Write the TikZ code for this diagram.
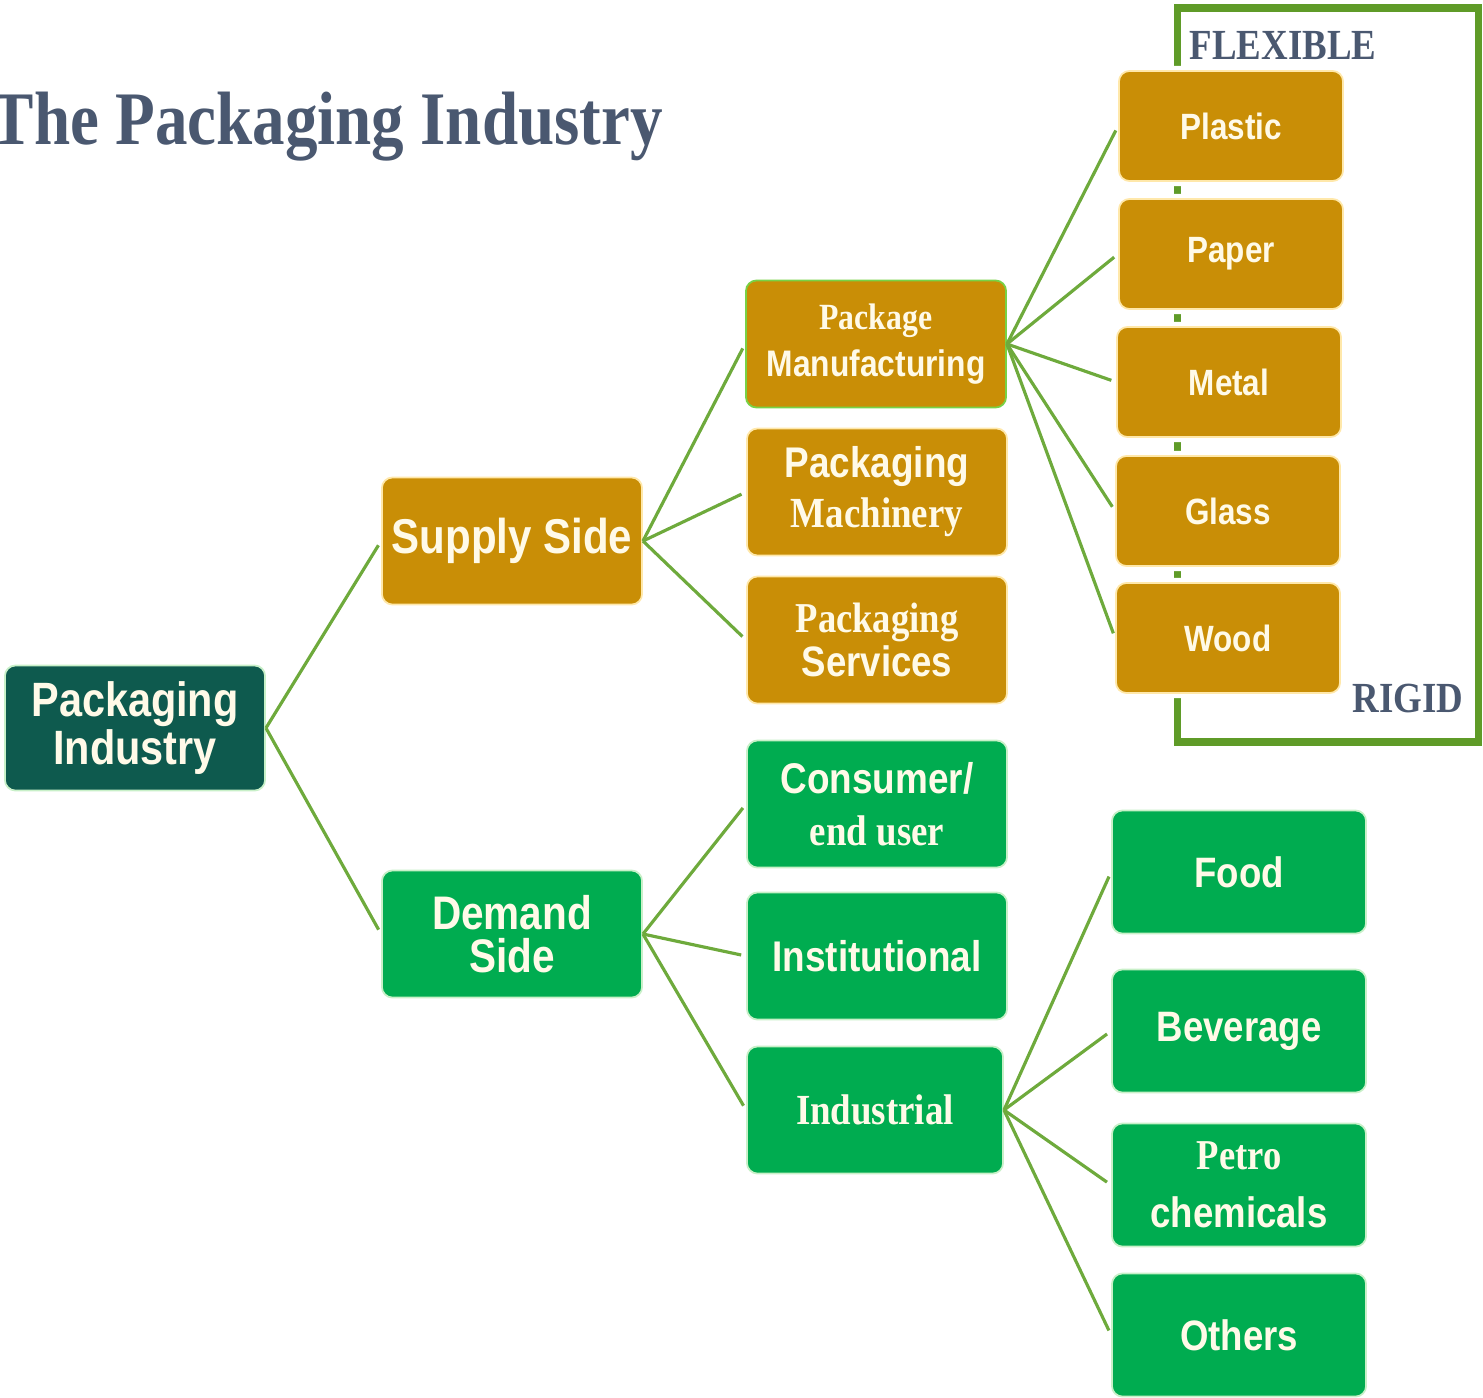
\documentclass[tikz,border=0pt]{standalone}
\usepackage{fontspec}
\newfontfamily\pksans[FakeStretch=0.86]{Liberation Sans}
\newfontfamily\pkserif[FakeStretch=0.86]{Liberation Serif}

\definecolor{gold}{RGB}{201,142,6}
\definecolor{goldedge}{RGB}{255,232,170}
\definecolor{leaf}{RGB}{0,172,80}
\definecolor{leafedge}{RGB}{200,240,200}
\definecolor{teal}{RGB}{14,90,78}
\definecolor{twig}{RGB}{110,170,60}
\definecolor{hedge}{RGB}{95,155,40}
\definecolor{slate}{RGB}{74,88,112}
\definecolor{cream}{RGB}{255,250,232}

\tikzset{box/.style={rectangle, rounded corners=3pt, inner sep=0pt, align=center, text=cream, line width=0.5pt, preaction={draw=white, line width=1mm}},
 supply/.style={box, fill=gold, draw=goldedge},
 demand/.style={box, fill=leaf, draw=leafedge},
 wide/.style={minimum width=2.6cm, minimum height=1.27cm},
 slim/.style={minimum width=2.24cm, minimum height=1.1cm},
 tall/.style={minimum width=2.54cm, minimum height=1.23cm},
 link/.style={twig, line width=0.9pt, shorten >=0.05cm},
 tag/.style={slate, font=\pkserif\bfseries\fontsize{12.2}{14}\selectfont, inner sep=0pt}}

\begin{document}
\begin{tikzpicture}[x=0.01cm, y=-0.01cm]
   \useasboundingbox (0,0) rectangle (1483,1397);
   % flexible / rigid bracket, behind the material boxes
   \draw[hedge, line width=2pt] (1177,8) rectangle (1478,742);
   \node[tag] (flexible) at (1283,46) {FLEXIBLE};
   \node[tag] (rigid) at (1408,698) {RIGID};
   \node[slate, anchor=base west, inner sep=0pt, font=\pkserif\bfseries\fontsize{21.5}{24}\selectfont] (title) at (-10,145) {The Packaging Industry};

   % root
   \node[box, wide, fill=teal, draw=leafedge, minimum height=1.25cm, font=\pksans\bfseries\fontsize{13.7}{12.2}\selectfont] (industry) at (135,728) {Packaging\\Industry};

   % supply and demand
   \node[supply, wide, font=\pksans\bfseries\fontsize{13.9}{14}\selectfont] (supplyside) at (512,541) {Supply Side};
   \node[demand, wide, font=\pksans\bfseries\fontsize{13.4}{12.2}\selectfont] (demandside) at (512,934) {Demand\\Side};

   % supply side branches
   \node[supply, wide, draw={rgb,255:red,120;green,210;blue,70}, font=\bfseries\fontsize{10.5}{13.4}\selectfont] (pkgmanuf) at (876,344) {\pkserif Package\\\pksans Manufacturing};
   \node[supply, wide, font=\bfseries\fontsize{12.2}{14.2}\selectfont] (machinery) at (877,492) {\pksans Packaging\\\pkserif Machinery};
   \node[supply, wide, font=\bfseries\fontsize{12.1}{10.2}\selectfont] (services) at (877,640) {\pkserif Packaging\\\pksans Services};

   % demand side branches
   \node[demand, wide, font=\bfseries\fontsize{12.2}{14.8}\selectfont] (consumer) at (877,804) {\pksans Consumer/\\\pkserif end user};
   \node[demand, wide, font=\pksans\bfseries\fontsize{12.2}{14}\selectfont] (institutional) at (877,956) {Institutional};
   \node[demand, wide, minimum width=2.56cm, font=\pkserif\bfseries\fontsize{12.2}{14}\selectfont] (industrial) at (875,1110) {Industrial};

   % materials
   \node[supply, slim, font=\pksans\bfseries\fontsize{10.4}{12}\selectfont] (plastic) at (1231,126) {Plastic};
   \node[supply, slim, font=\pksans\bfseries\fontsize{10.4}{12}\selectfont] (paper) at (1231,254) {Paper};
   \node[supply, slim, font=\pksans\bfseries\fontsize{10.4}{12}\selectfont] (metal) at (1229,382) {Metal};
   \node[supply, slim, font=\pksans\bfseries\fontsize{10.4}{12}\selectfont] (glass) at (1228,511) {Glass};
   \node[supply, slim, font=\pksans\bfseries\fontsize{10.4}{12}\selectfont] (wood) at (1228,638) {Wood};

   % industrial sectors
   \node[demand, tall, font=\pksans\bfseries\fontsize{12.1}{14}\selectfont] (food) at (1239,872) {Food};
   \node[demand, tall, font=\pksans\bfseries\fontsize{12.1}{14}\selectfont] (beverage) at (1239,1031) {Beverage};
   \node[demand, tall, font=\bfseries\fontsize{12.1}{16.5}\selectfont] (petro) at (1239,1185) {\pkserif Petro\\\pksans chemicals};
   \node[demand, tall, font=\pksans\bfseries\fontsize{12.1}{14}\selectfont] (others) at (1239,1335) {Others};

   % connectors
   \foreach \kid in {supplyside,demandside}
    \draw[link] (industry.east) -- (\kid.west);
   \foreach \kid in {pkgmanuf,machinery,services}
    \draw[link] (supplyside.east) -- (\kid.west);
   \foreach \kid in {consumer,institutional,industrial}
    \draw[link] (demandside.east) -- (\kid.west);
   \foreach \kid in {plastic,paper,metal,glass,wood}
    \draw[link] (pkgmanuf.east) -- (\kid.west);
   \foreach \kid in {food,beverage,petro,others}
    \draw[link] (industrial.east) -- (\kid.west);
  \end{tikzpicture}
\end{document}
